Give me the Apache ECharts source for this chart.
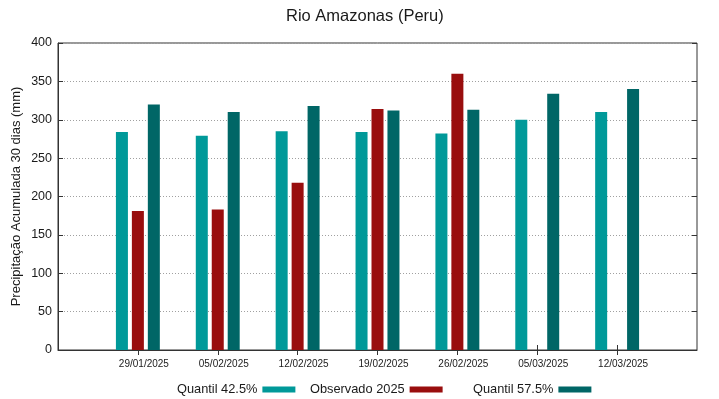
<!DOCTYPE html>
<html>
<head>
<meta charset="utf-8">
<script src="https://cdn.jsdelivr.net/npm/echarts@6/dist/echarts.min.js"></script>
<style>
  html, body { margin: 0; padding: 0; background: #fff; }
  #chart { width: 719px; height: 399px; }
</style>
</head>
<body>
<div id="chart"></div>
<script>
// datas (empty slot at each end, like the gnuplot x range)
const datas = ['', '29/01/2025', '05/02/2025', '12/02/2025', '19/02/2025', '26/02/2025', '05/03/2025', '12/03/2025', ''];
const quantil425 = [null, 284, 279, 285, 284, 282, 300, 310, null];
const observado = [null, 181, 183, 218, 314, 360, null, null, null];
const quantil575 = [null, 320, 310, 318, 312, 313, 334, 340, null];
const yTicks = { min: 0, max: 400, step: 50 };

const corTexto = '#1a1a1a';
const corBorda = '#333';
const fonte = 'Liberation Sans, Arial, sans-serif';

//só os ticks das datas, sem os das pontas
const tickDatas = (i) => i > 0 && i < datas.length - 1;

//legenda estilo gnuplot: texto e depois a amostra
function legenda(nome, left) {
    return {
        data: [nome],
        left: left,
        top: 378,
        align: 'right',
        itemWidth: 33,
        itemHeight: 6,
        icon: 'rect',
        textStyle: { fontFamily: fonte, fontSize: 12.8, color: corTexto }
    };
}

let chart = echarts.init(document.getElementById('chart'));
chart.setOption({
    animation: false,
    backgroundColor: '#fff',
    title: {
        text: 'Rio Amazonas (Peru)',
        left: 281,
        top: 3,
        textStyle: { fontFamily: fonte, fontSize: 16.5, fontWeight: 'normal', color: corTexto }
    },
    legend: [
        legenda('Quantil 42.5%', 172),
        legenda('Observado 2025', 305),
        legenda('Quantil 57.5%', 468)
    ],
    grid: {
        left: 58, right: 22, top: 43, bottom: 49,
        outerBoundsMode: 'none',
        show: true, borderColor: corBorda, borderWidth: 1
    },
    xAxis: [{
        type: 'category',
        data: datas,
        boundaryGap: false,
        axisLine: { lineStyle: { color: corBorda } },
        axisTick: { inside: true, length: 5, interval: tickDatas, lineStyle: { color: corBorda } },
        axisLabel: {
            fontFamily: fonte, fontSize: 10, color: corTexto, margin: 9,
            padding: [0, 0, 0, 12], interval: 0
        },
        splitLine: { show: false }
    }, {
        type: 'category',
        data: datas,
        position: 'top',
        boundaryGap: false,
        axisLine: { show: false },
        axisTick: { inside: true, length: 5, interval: tickDatas, lineStyle: { color: corBorda } },
        axisLabel: { show: false },
        splitLine: { show: false }
    }],
    yAxis: [{
        type: 'value',
        min: yTicks.min, max: yTicks.max, interval: yTicks.step,
        name: 'Precipitação Acumulada 30 dias (mm)',
        nameLocation: 'middle',
        nameGap: 35,
        nameMoveOverlap: false,
        nameTextStyle: { fontFamily: fonte, fontSize: 13, color: corTexto },
        axisLine: { show: true, lineStyle: { color: corBorda } },
        axisTick: { show: true, inside: true, length: 5, lineStyle: { color: corBorda } },
        axisLabel: { fontFamily: fonte, fontSize: 12.5, color: corTexto, margin: 6 },
        splitLine: { show: true, lineStyle: { color: '#a0a0a0', type: [1, 2], width: 1 } }
    }, {
        type: 'value',
        position: 'right',
        min: yTicks.min, max: yTicks.max, interval: yTicks.step,
        axisLine: { show: false },
        axisTick: { show: true, inside: true, length: 5, lineStyle: { color: corBorda } },
        axisLabel: { show: false },
        splitLine: { show: false }
    }],
    series: [{
        name: 'Quantil 42.5%',
        type: 'bar',
        data: quantil425,
        barWidth: 12,
        barGap: '33%',
        itemStyle: { color: '#009999' }
    }, {
        name: 'Observado 2025',
        type: 'bar',
        data: observado,
        barWidth: 12,
        barGap: '33%',
        itemStyle: { color: '#990e0e' }
    }, {
        name: 'Quantil 57.5%',
        type: 'bar',
        data: quantil575,
        barWidth: 12,
        barGap: '33%',
        itemStyle: { color: '#006666' }
    }]
});
</script>
</body>
</html>
